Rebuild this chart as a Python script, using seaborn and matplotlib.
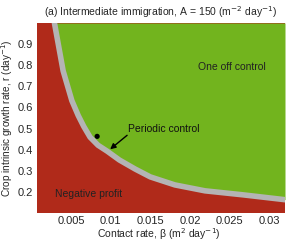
import numpy as np
import pandas as pd
import seaborn as sns
import matplotlib
matplotlib.use("Agg")
import matplotlib.pyplot as plt

# boundary between negative profit and one off control (centre of grey band)
beta_edge = [0.0029, 0.0040, 0.0051, 0.0059, 0.0066, 0.0074, 0.0084, 0.00955,
             0.0111, 0.0131, 0.0150, 0.0181, 0.0219, 0.0267, 0.0320]
r_edge = [1.00, 0.773, 0.632, 0.562, 0.510, 0.459, 0.421, 0.393,
          0.351, 0.308, 0.271, 0.233, 0.205, 0.186, 0.163]

# example parameter point (black dot)
beta_pt = [0.00829]
r_pt = [0.463]

xticks = [0.005, 0.01, 0.015, 0.02, 0.025, 0.03]
xticklabels = ["0.005", "0.01", "0.015", "0.02", "0.025", "0.03"]
yticks = [0.2, 0.3, 0.4, 0.5, 0.6, 0.7, 0.8, 0.9]

red = "#B02A1A"
green = "#72B41E"
grey = "#B4B4B4"

sns.set_theme(style="white")
plt.rcParams["font.family"] = ["Liberation Sans", "DejaVu Sans"]

df = pd.DataFrame({"beta": beta_edge, "r": r_edge})

fig = plt.figure(figsize=(2.9, 2.43), dpi=100)
ax = fig.add_axes([37 / 290, 1 - 213 / 243, 248 / 290, 190 / 243])
ax.set_facecolor(red)
ax.fill_between(df["beta"], df["r"], 1.0, color=green, lw=0)
sns.lineplot(data=df, x="beta", y="r", color=grey, lw=4, sort=False, ax=ax,
             solid_capstyle="round")
sns.scatterplot(x=beta_pt, y=r_pt, color="black", s=14, edgecolor="none", ax=ax)

ax.set_xlim(0.0007, 0.032)
ax.set_ylim(0.1, 1.0)
ax.set_xticks(xticks)
ax.set_xticklabels(xticklabels)
ax.set_yticks(yticks)
ax.tick_params(length=0, labelsize=8, pad=3)
ax.tick_params(axis="x", pad=2)
for s in ax.spines.values():
    s.set_visible(False)

ax.text(0.0210, 0.792, "One off control", fontsize=7.5, color="#222222", va="center")
ax.text(0.0030, 0.188, "Negative profit", fontsize=7.5, color="#222222", va="center")
ax.text(0.0122, 0.50, "Periodic control", fontsize=7.5, color="#111111", va="center")
ax.annotate("", xy=(0.00993, 0.402), xytext=(0.01207, 0.468),
            arrowprops=dict(arrowstyle="-|>", color="black", lw=1, mutation_scale=8,
                            shrinkA=0, shrinkB=0))

ax.set_title("(a) Intermediate immigration, A = 150 (m$^{-2}$ day$^{-1}$)", fontsize=7.5, pad=5)
ax.set_xlabel("Contact rate, \u03b2 (m$^{2}$ day$^{-1}$)", fontsize=7.5)
ax.set_ylabel("Crop intrinsic growth rate, r (day$^{-1}$)", fontsize=7.2)
ax.xaxis.set_label_coords(0.49, -0.068)
ax.yaxis.set_label_coords(-0.09, 0.5)

fig.savefig("out.png", dpi=100)
